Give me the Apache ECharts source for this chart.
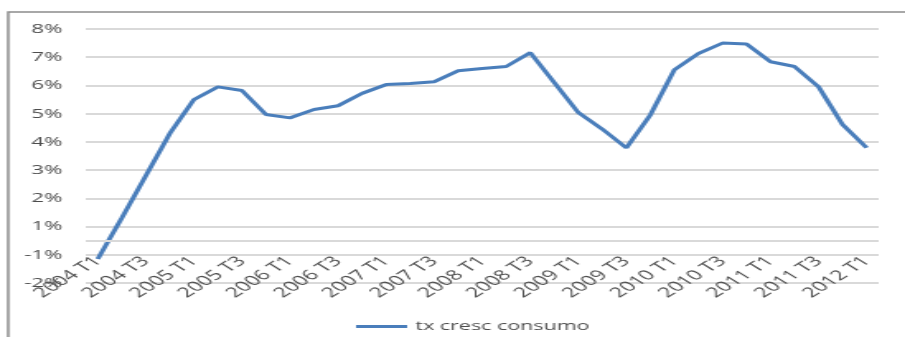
<!DOCTYPE html>
<html>
<head>
<meta charset="utf-8">
<script src="https://cdn.jsdelivr.net/npm/echarts@6/dist/echarts.min.js"></script>
<style>
  html, body { margin: 0; padding: 0; background: #fff; overflow: hidden; }
  /* a imagem original está esticada na horizontal */
  #chart { width: 549px; height: 337px; transform: scaleX(1.6485); transform-origin: 0 0; }
</style>
</head>
<body>
<div id="chart"></div>
<script>
/* dados */
const trimestres = [
  '2004 T1', '2004 T2', '2004 T3', '2004 T4',
  '2005 T1', '2005 T2', '2005 T3', '2005 T4',
  '2006 T1', '2006 T2', '2006 T3', '2006 T4',
  '2007 T1', '2007 T2', '2007 T3', '2007 T4',
  '2008 T1', '2008 T2', '2008 T3', '2008 T4',
  '2009 T1', '2009 T2', '2009 T3', '2009 T4',
  '2010 T1', '2010 T2', '2010 T3', '2010 T4',
  '2011 T1', '2011 T2', '2011 T3', '2011 T4',
  '2012 T1'
];
const txCrescConsumo = [
  -0.15, 1.3, 2.8, 4.3, 5.5, 5.95, 5.82, 4.97,
  4.85, 5.15, 5.28, 5.72, 6.03, 6.07, 6.13, 6.52,
  6.6, 6.67, 7.16, 6.1, 5.04, 4.45, 3.79, 4.96,
  6.56, 7.13, 7.5, 7.47, 6.84, 6.67, 5.95, 4.61,
  3.79
];
// rótulos do eixo y tal como aparecem no gráfico (valor -> texto)
const yValores = [-1, 0, 1, 2, 3, 4, 5, 6, 7, 8];
const yRotulos = ['-2%', '-1%', '1%', '2%', '3%', '4%', '5%', '6%', '7%', '8%'];

const chart = echarts.init(document.getElementById('chart'));
const corTexto = '#4d4d4d';
const corGrelha = '#d9d9d9';
const fonte = '"Open Sans", "Liberation Sans", sans-serif';

chart.setOption({
  animation: false,
  textStyle: { fontFamily: fonte },
  grid: { left: 52, right: 16, top: 29, bottom: 54, containLabel: false },
  //moldura
  graphic: [{
    type: 'rect',
    silent: true,
    shape: { x: 5, y: 12, width: 700, height: 400 },
    style: { fill: 'none', stroke: '#8c8c8c', lineWidth: 1.5 }
  }],
  legend: {
    left: 211,
    top: 315,
    icon: 'rect',
    itemWidth: 31,
    itemHeight: 3,
    itemGap: 10,
    textStyle: { fontSize: 13, color: corTexto, fontFamily: fonte },
    data: ['tx cresc consumo']
  },
  xAxis: {
    type: 'category',
    data: trimestres,
    boundaryGap: true,
    // o eixo fica na linha do zero (uma linha de grelha acima do fundo)
    offset: -28,
    axisLine: { show: false, onZero: false },
    axisTick: { show: false },
    axisLabel: {
      interval: 1,
      rotate: 45,
      margin: 4,
      fontSize: 14,
      color: corTexto
    }
  },
  yAxis: {
    type: 'value',
    min: -1,
    max: 8,
    interval: 1,
    axisLine: { show: false },
    axisTick: { show: false },
    axisLabel: {
      margin: 14,
      fontSize: 13.5,
      color: corTexto,
      formatter: function (v) {
        const i = yValores.indexOf(v);
        return i >= 0 ? yRotulos[i] : '';
      }
    },
    splitLine: { lineStyle: { color: corGrelha, width: 2 } }
  },
  series: [{
    name: 'tx cresc consumo',
    type: 'line',
    data: txCrescConsumo,
    symbol: 'none',
    lineStyle: { color: '#4a7ebb', width: 3 },
    itemStyle: { color: '#4a7ebb' },
    markLine: {
      silent: true,
      symbol: 'none',
      label: { show: false },
      lineStyle: { color: corGrelha, width: 2, type: 'solid' },
      data: [{ yAxis: 0.5 }]
    }
  }]
});
</script>
</body>
</html>
